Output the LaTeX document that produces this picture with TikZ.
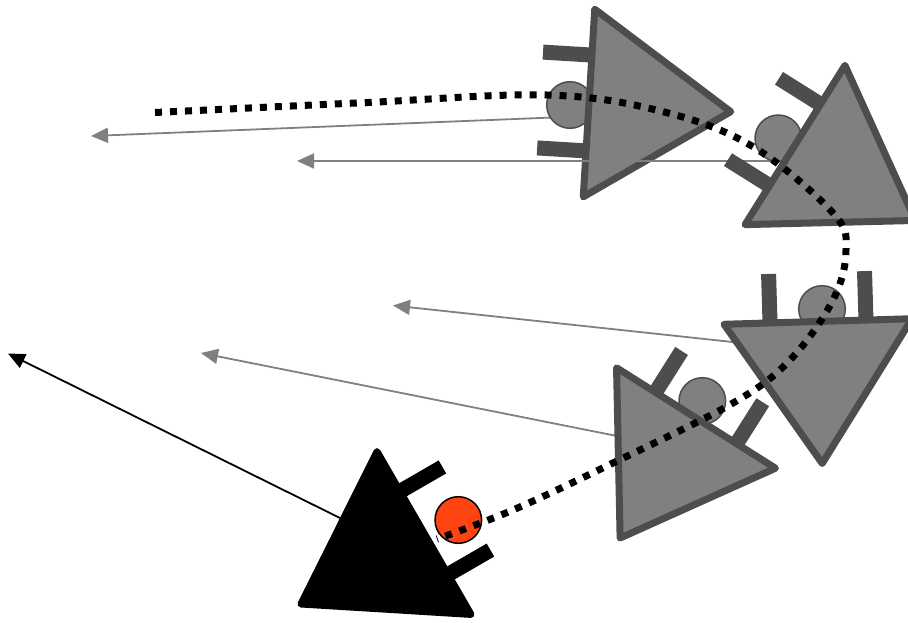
\documentclass[tikz,border=0pt]{standalone}
\usetikzlibrary{arrows.meta}
\definecolor{robfill}{RGB}{128,128,128}
\definecolor{robedge}{RGB}{77,77,77}
\definecolor{robred}{RGB}{255,68,17}
\tikzset{
  grayarrow/.style={draw=robfill, line width=1.8, -{Triangle[length=17pt,width=15pt]}},
  blackarrow/.style={draw=black, line width=1.8, -{Triangle[length=17pt,width=15pt]}},
  trail/.style={draw=black, line width=7, dash pattern=on 7pt off 8pt},
}
% #1 Mx, #2 My (image px), #3 heading angle, #4 body fill, #5 edge/wheel colour,
% #6 circle centre, #7 circle outline, #8 circle fill
\newcommand{\drawrobot}[8]{%
  \begin{scope}[shift={(#1,-#2)}, rotate=#3]
    \fill[#5] (-49,40.5) rectangle (5,55.5);
    \fill[#5] (-49,-55.5) rectangle (5,-40.5);
  \end{scope}
  \filldraw[fill=#8, draw=#7, line width=1.5] (#6) circle (23.3);
  \begin{scope}[shift={(#1,-#2)}, rotate=#3]
    \filldraw[fill=#4, draw=#5, line width=7, line join=round] (0,94) -- (142,0) -- (0,-94) -- cycle;
  \end{scope}}
\begin{document}
\begin{tikzpicture}[x=1pt,y=1pt]
\useasboundingbox (0,0) rectangle (908,-622);
% arrow end points
\coordinate (a1s) at (590,-116);
\coordinate (a1e) at (91,-136);
\coordinate (a2s) at (792,-161);
\coordinate (a2e) at (297,-161);
\coordinate (a3s) at (742,-343);
\coordinate (a3e) at (393,-305.5);
\coordinate (a4s) at (622,-437);
\coordinate (a4e) at (201,-353);
\coordinate (a5s) at (340,-518);
\coordinate (a5e) at (8,-353.5);

\draw[grayarrow] (a1s) -- (a1e);
\drawrobot{589}{103}{-3.5}{robfill}{robedge}{570,-105}{robedge}{robfill}
\draw[grayarrow] (a2s) -- (a2e);
\drawrobot{795}{145}{-32.1}{robfill}{robedge}{778.3,-138.3}{robedge}{robfill}
\draw[grayarrow] (a3s) -- (a3e);
\drawrobot{818}{321.5}{-88.3}{robfill}{robedge}{822,-309}{robedge}{robfill}
\draw[grayarrow] (a4s) -- (a4e);
\drawrobot{696}{418}{-122.3}{robfill}{robedge}{702.3,-401}{robedge}{robfill}
\draw[blackarrow] (a5s) -- (a5e);
\drawrobot{424}{533}{-150}{black}{black}{458.3,-520}{black}{robred}

% trajectory
\draw[trail] plot[smooth, tension=0.6] coordinates {
  (155,-112.5) (363,-102.7) (547,-95) (663,-111.7) (753,-146.7)
  (833,-213) (846,-250) (833,-300) (790,-360) (733,-403)
  (613,-463) (513,-510) (437,-539)};
\end{tikzpicture}
\end{document}
